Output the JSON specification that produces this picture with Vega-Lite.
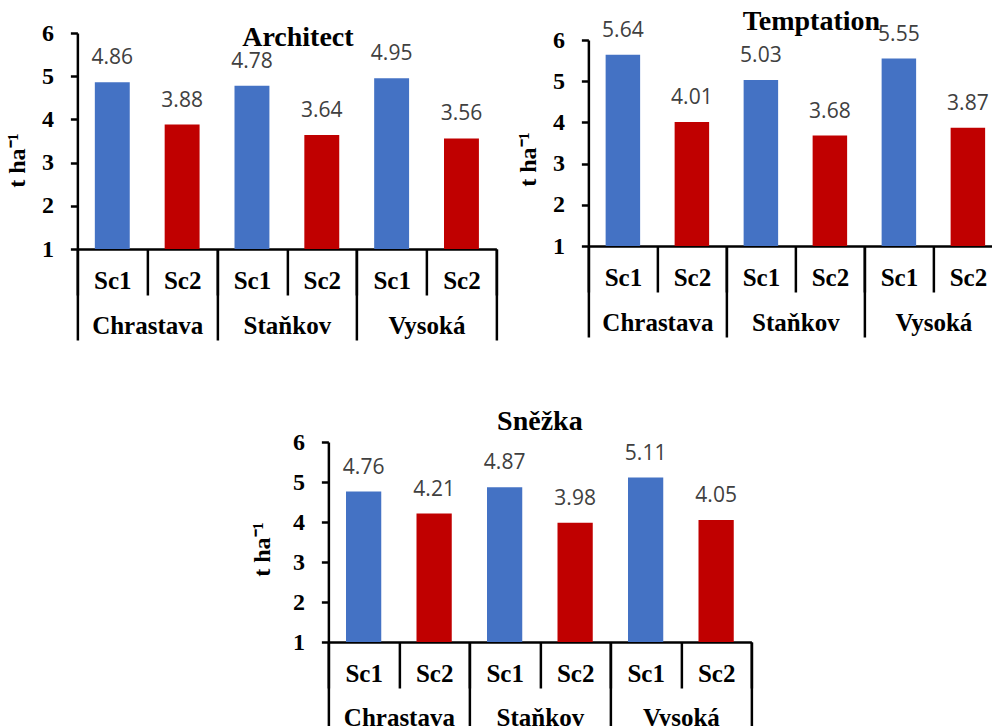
{
  "$schema": "https://vega.github.io/schema/vega-lite/v6.json",
  "padding": {"left": 5, "top": 7, "right": 0, "bottom": 0},
  "datasets": {
    "architect": [
      {"location": "Chrastava", "scenario": "Sc1", "cat": "Chrastava Sc1", "yield": 4.86},
      {"location": "Chrastava", "scenario": "Sc2", "cat": "Chrastava Sc2", "yield": 3.88},
      {"location": "Staňkov", "scenario": "Sc1", "cat": "Staňkov Sc1", "yield": 4.78},
      {"location": "Staňkov", "scenario": "Sc2", "cat": "Staňkov Sc2", "yield": 3.64},
      {"location": "Vysoká", "scenario": "Sc1", "cat": "Vysoká Sc1", "yield": 4.95},
      {"location": "Vysoká", "scenario": "Sc2", "cat": "Vysoká Sc2", "yield": 3.56}
    ],
    "temptation": [
      {"location": "Chrastava", "scenario": "Sc1", "cat": "Chrastava Sc1", "yield": 5.64},
      {"location": "Chrastava", "scenario": "Sc2", "cat": "Chrastava Sc2", "yield": 4.01},
      {"location": "Staňkov", "scenario": "Sc1", "cat": "Staňkov Sc1", "yield": 5.03},
      {"location": "Staňkov", "scenario": "Sc2", "cat": "Staňkov Sc2", "yield": 3.68},
      {"location": "Vysoká", "scenario": "Sc1", "cat": "Vysoká Sc1", "yield": 5.55},
      {"location": "Vysoká", "scenario": "Sc2", "cat": "Vysoká Sc2", "yield": 3.87}
    ],
    "snezka": [
      {"location": "Chrastava", "scenario": "Sc1", "cat": "Chrastava Sc1", "yield": 4.76},
      {"location": "Chrastava", "scenario": "Sc2", "cat": "Chrastava Sc2", "yield": 4.21},
      {"location": "Staňkov", "scenario": "Sc1", "cat": "Staňkov Sc1", "yield": 4.87},
      {"location": "Staňkov", "scenario": "Sc2", "cat": "Staňkov Sc2", "yield": 3.98},
      {"location": "Vysoká", "scenario": "Sc1", "cat": "Vysoká Sc1", "yield": 5.11},
      {"location": "Vysoká", "scenario": "Sc2", "cat": "Vysoká Sc2", "yield": 4.05}
    ]
  },
  "center": true,
  "spacing": 66,
  "vconcat": [
    {
      "hconcat": [
        {
          "width": 419, "height": 216,
          "data": {"name": "architect"},
          "title": {"text": "Architect", "frame": "group", "dx": 11, "offset": -53, "baseline": "alphabetic"},
          "layer": [
            {"layer": [
              {"mark": {"type": "bar", "width": {"band": 0.5}},
               "encoding": {
                 "x": {"field": "cat", "type": "nominal", "sort": null, "scale": {"paddingInner": 0, "paddingOuter": 0},
                       "axis": {"orient": "bottom", "title": null, "tickBand": "extent", "tickSize": 46, "labelExpr": "datum.value ? slice(datum.value, -3) : ''", "labelPadding": -6.5, "labelFontSize": 25}},
                 "y": {"field": "yield", "type": "quantitative", "scale": {"domain": [1, 6]},
                       "axis": {"values": [1, 2, 3, 4, 5, 6], "tickCount": 10, "format": "d", "labelOverlap": false, "tickSize": 7, "labelPadding": 17, "title": "t ha⁻¹", "titlePadding": 12, "titleY": 127}},
                 "y2": {"datum": 1},
                 "color": {"field": "scenario", "type": "nominal", "scale": {"domain": ["Sc1", "Sc2"], "range": ["#4472C4", "#C00000"]}, "legend": null}
               }},
              {"mark": {"type": "text", "baseline": "alphabetic", "dy": -18, "font": "Open Sans", "fontSize": 21, "color": "#404040"},
               "encoding": {
                 "x": {"field": "cat", "type": "nominal", "sort": null},
                 "y": {"field": "yield", "type": "quantitative"},
                 "text": {"field": "yield", "type": "quantitative", "format": ".2f"}
               }}
            ]},
            {"mark": {"type": "rule", "opacity": 0},
             "encoding": {
               "x": {"field": "location", "type": "nominal", "sort": null, "scale": {"paddingInner": 0, "paddingOuter": 0},
                     "axis": {"orient": "bottom", "title": null, "domain": false, "tickBand": "extent", "tickSize": 91, "labelPadding": -6.5, "labelFontSize": 25}}
             }}
          ],
          "resolve": {"scale": {"x": "independent"}, "axis": {"x": "independent"}}
        },
        {
          "width": 414, "height": 213,
          "data": {"name": "temptation"},
          "title": {"text": "Temptation", "frame": "group", "dx": 16, "offset": -38, "baseline": "alphabetic"},
          "layer": [
            {"layer": [
              {"mark": {"type": "bar", "width": {"band": 0.5}},
               "encoding": {
                 "x": {"field": "cat", "type": "nominal", "sort": null, "scale": {"paddingInner": 0, "paddingOuter": 0},
                       "axis": {"orient": "bottom", "title": null, "tickBand": "extent", "tickSize": 46, "labelExpr": "datum.value ? slice(datum.value, -3) : ''", "labelPadding": -6.5, "labelFontSize": 25}},
                 "y": {"field": "yield", "type": "quantitative", "scale": {"domain": [1, 6], "range": [213, 7]},
                       "axis": {"values": [1, 2, 3, 4, 5, 6], "tickCount": 10, "format": "d", "labelOverlap": false, "tickSize": 7, "labelPadding": 17, "title": "t ha⁻¹", "titlePadding": 12, "titleY": 126}},
                 "y2": {"datum": 1},
                 "color": {"field": "scenario", "type": "nominal", "scale": {"domain": ["Sc1", "Sc2"], "range": ["#4472C4", "#C00000"]}, "legend": null}
               }},
              {"mark": {"type": "text", "baseline": "alphabetic", "dy": -18, "font": "Open Sans", "fontSize": 21, "color": "#404040"},
               "encoding": {
                 "x": {"field": "cat", "type": "nominal", "sort": null},
                 "y": {"field": "yield", "type": "quantitative"},
                 "text": {"field": "yield", "type": "quantitative", "format": ".2f"}
               }}
            ]},
            {"mark": {"type": "rule", "opacity": 0},
             "encoding": {
               "x": {"field": "location", "type": "nominal", "sort": null, "scale": {"paddingInner": 0, "paddingOuter": 0},
                     "axis": {"orient": "bottom", "title": null, "domain": false, "tickBand": "extent", "tickSize": 91, "labelPadding": -6.5, "labelFontSize": 25}}
             }}
          ],
          "resolve": {"scale": {"x": "independent"}, "axis": {"x": "independent"}}
        }
      ],
      "spacing": 92,
      "bounds": "flush"
    },
    {
      "width": 423, "height": 200,
      "data": {"name": "snezka"},
      "title": {"text": "Sněžka", "frame": "group", "dx": 0, "offset": -28, "baseline": "alphabetic"},
      "layer": [
        {"layer": [
          {"mark": {"type": "bar", "width": {"band": 0.5}},
           "encoding": {
             "x": {"field": "cat", "type": "nominal", "sort": null, "scale": {"paddingInner": 0, "paddingOuter": 0},
                   "axis": {"orient": "bottom", "title": null, "tickBand": "extent", "tickSize": 46, "labelExpr": "datum.value ? slice(datum.value, -3) : ''", "labelPadding": -6.5, "labelFontSize": 25}},
             "y": {"field": "yield", "type": "quantitative", "scale": {"domain": [1, 6]},
                   "axis": {"values": [1, 2, 3, 4, 5, 6], "tickCount": 10, "format": "d", "labelOverlap": false, "tickSize": 7, "labelPadding": 17, "title": "t ha⁻¹", "titlePadding": 18, "titleY": 107}},
             "y2": {"datum": 1},
             "color": {"field": "scenario", "type": "nominal", "scale": {"domain": ["Sc1", "Sc2"], "range": ["#4472C4", "#C00000"]}, "legend": null}
           }},
          {"mark": {"type": "text", "baseline": "alphabetic", "dy": -18, "font": "Open Sans", "fontSize": 21, "color": "#404040"},
           "encoding": {
             "x": {"field": "cat", "type": "nominal", "sort": null},
             "y": {"field": "yield", "type": "quantitative"},
             "text": {"field": "yield", "type": "quantitative", "format": ".2f"}
           }}
        ]},
        {"mark": {"type": "rule", "opacity": 0},
         "encoding": {
           "x": {"field": "location", "type": "nominal", "sort": null, "scale": {"paddingInner": 0, "paddingOuter": 0},
                 "axis": {"orient": "bottom", "title": null, "domain": false, "tickBand": "extent", "tickSize": 84, "labelPadding": -0.5, "labelFontSize": 25}}
         }}
      ],
      "resolve": {"scale": {"x": "independent"}, "axis": {"x": "independent"}}
    }
  ],
  "config": {
    "view": {"stroke": null},
    "title": {"font": "Liberation Serif", "fontSize": 28, "fontWeight": "bold", "color": "black", "anchor": "middle"},
    "axis": {
      "grid": false,
      "domainColor": "black", "domainWidth": 2.5,
      "tickColor": "black", "tickWidth": 2.5,
      "labelFont": "Liberation Serif", "labelFontWeight": "bold", "labelFontSize": 24, "labelColor": "black",
      "labelOverlap": false,
      "titleFont": "Liberation Serif", "titleFontWeight": "bold", "titleFontSize": 24, "titleColor": "black"
    },
    "axisX": {"labelAngle": 0, "labelBaseline": "alphabetic"}
  }
}
